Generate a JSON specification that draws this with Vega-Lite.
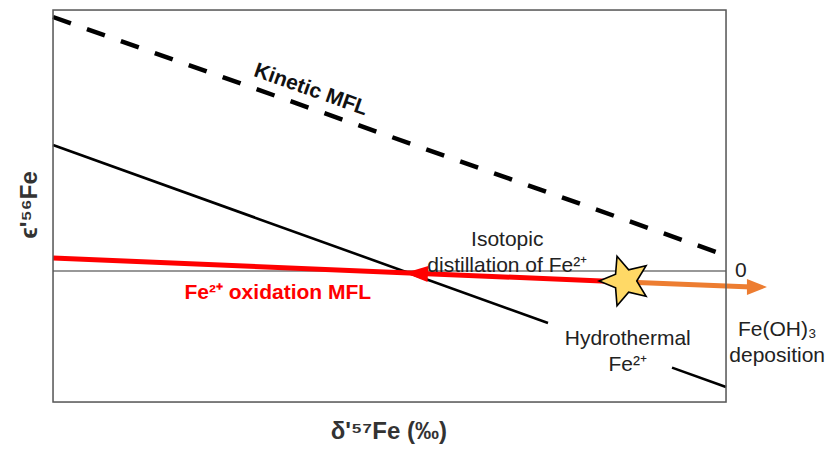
{
  "$schema": "https://vega.github.io/schema/vega-lite/v6.json",
  "width": 673,
  "height": 392,
  "autosize": {"type": "none"},
  "padding": {"left": 53, "top": 10, "right": 111, "bottom": 52},
  "layer": [
    {
      "data": {"values": [{"seg": "zero", "dx": 0, "ey": 0}, {"seg": "zero", "dx": 10, "ey": 0}]},
      "mark": {"type": "line", "color": "#333333", "strokeWidth": 1.2},
      "encoding": {
        "x": {"field": "dx", "type": "quantitative", "scale": {"domain": [0, 10], "nice": false, "zero": false}, "axis": null},
        "y": {"field": "ey", "type": "quantitative", "scale": {"domain": [-1.31, 2.61], "nice": false, "zero": false}, "axis": null}
      }
    },
    {
      "data": {"values": [{"seg": "kinetic", "dx": 0, "ey": 2.54}, {"seg": "kinetic", "dx": 10, "ey": 0.155}]},
      "mark": {"type": "line", "color": "black", "strokeWidth": 4.5, "strokeDash": [19, 17]},
      "encoding": {
        "x": {"field": "dx", "type": "quantitative"},
        "y": {"field": "ey", "type": "quantitative"}
      }
    },
    {
      "data": {"values": [{"seg": "eq1", "dx": 0, "ey": 1.26}, {"seg": "eq1", "dx": 7.355, "ey": -0.52}]},
      "mark": {"type": "line", "color": "black", "strokeWidth": 2.6},
      "encoding": {
        "x": {"field": "dx", "type": "quantitative"},
        "y": {"field": "ey", "type": "quantitative"}
      }
    },
    {
      "data": {"values": [{"seg": "eq2", "dx": 9.198, "ey": -0.966}, {"seg": "eq2", "dx": 10, "ey": -1.16}]},
      "mark": {"type": "line", "color": "black", "strokeWidth": 2.6},
      "encoding": {
        "x": {"field": "dx", "type": "quantitative"},
        "y": {"field": "ey", "type": "quantitative"}
      }
    },
    {
      "data": {"values": [{"seg": "fe3", "dx": 8.5, "ey": -0.11}, {"seg": "fe3", "dx": 10.38, "ey": -0.16}]},
      "mark": {"type": "line", "color": "#ED7D31", "strokeWidth": 5},
      "encoding": {
        "x": {"field": "dx", "type": "quantitative"},
        "y": {"field": "ey", "type": "quantitative"}
      }
    },
    {
      "data": {"values": [{"seg": "ox", "dx": 0, "ey": 0.13}, {"seg": "ox", "dx": 8.5, "ey": -0.11}]},
      "mark": {"type": "line", "color": "#FF0000", "strokeWidth": 5},
      "encoding": {
        "x": {"field": "dx", "type": "quantitative"},
        "y": {"field": "ey", "type": "quantitative"}
      }
    },
    {
      "data": {"values": [{"seg": "frame", "ax": 0, "bx": 10, "ay": -1.31, "by": 2.61}]},
      "mark": {"type": "rect", "fill": "transparent", "stroke": "#5a5a5a", "strokeWidth": 1.5},
      "encoding": {
        "x": {"field": "ax", "type": "quantitative"},
        "x2": {"field": "bx"},
        "y": {"field": "ay", "type": "quantitative"},
        "y2": {"field": "by"}
      }
    },
    {
      "data": {"values": [{"head": "red", "dx": 5.4, "ey": -0.025}]},
      "mark": {"type": "point", "shape": "M-1,0L1,-0.7L1,0.7Z", "filled": true, "color": "#FF0000", "opacity": 1, "size": 529, "angle": 2.4},
      "encoding": {
        "x": {"field": "dx", "type": "quantitative"},
        "y": {"field": "ey", "type": "quantitative"}
      }
    },
    {
      "data": {"values": [{"head": "orange", "dx": 10.46, "ey": -0.16}]},
      "mark": {"type": "point", "shape": "M1,0L-1,-0.8L-1,0.8Z", "filled": true, "color": "#ED7D31", "opacity": 1, "size": 400},
      "encoding": {
        "x": {"field": "dx", "type": "quantitative"},
        "y": {"field": "ey", "type": "quantitative"}
      }
    },
    {
      "data": {"values": [{"pt": "hydrothermal", "dx": 8.5, "ey": -0.1}]},
      "mark": {"type": "point", "shape": "M0,-1L0.265,-0.364L0.951,-0.309L0.428,0.139L0.588,0.809L0,0.45L-0.588,0.809L-0.428,0.139L-0.951,-0.309L-0.265,-0.364Z", "filled": true, "color": "#FFD966", "opacity": 1, "size": 2700, "angle": -18},
      "encoding": {
        "x": {"field": "dx", "type": "quantitative"},
        "y": {"field": "ey", "type": "quantitative"}
      }
    },
    {
      "data": {"values": [{"pt": "hydrothermal", "dx": 8.5, "ey": -0.1}]},
      "mark": {"type": "point", "shape": "M0,-1L0.265,-0.364L0.951,-0.309L0.428,0.139L0.588,0.809L0,0.45L-0.588,0.809L-0.428,0.139L-0.951,-0.309L-0.265,-0.364Z", "filled": false, "color": "#000000", "strokeWidth": 1.6, "opacity": 1, "size": 2700, "angle": -18},
      "encoding": {
        "x": {"field": "dx", "type": "quantitative"},
        "y": {"field": "ey", "type": "quantitative"}
      }
    },
    {
      "data": {"values": [{"dx": 3.83, "ey": 1.81, "label": "Kinetic MFL"}]},
      "mark": {"type": "text", "font": "Liberation Sans", "fontSize": 21, "fontWeight": "bold", "color": "#111111", "angle": 19.5, "align": "center", "baseline": "middle"},
      "encoding": {
        "x": {"field": "dx", "type": "quantitative"},
        "y": {"field": "ey", "type": "quantitative"},
        "text": {"field": "label"}
      }
    },
    {
      "data": {"values": [{"dx": 3.34, "ey": -0.22, "label": "Fe²⁺ oxidation MFL"}]},
      "mark": {"type": "text", "font": "Liberation Sans", "fontSize": 21, "fontWeight": "bold", "color": "#FF0000", "align": "center", "baseline": "middle"},
      "encoding": {
        "x": {"field": "dx", "type": "quantitative"},
        "y": {"field": "ey", "type": "quantitative"},
        "text": {"field": "label"}
      }
    },
    {
      "data": {"values": [
        {"dx": 6.75, "ey": 0.315, "label": "Isotopic\ndistillation of Fe²⁺"},
        {"dx": 8.54, "ey": -0.675, "label": "Hydrothermal\nFe²⁺"},
        {"dx": 10.22, "ey": 0.0, "label": "0"},
        {"dx": 10.76, "ey": -0.585, "label": "Fe(OH)₃\ndeposition"}
      ]},
      "mark": {"type": "text", "font": "Liberation Sans", "fontSize": 21, "color": "#222222", "align": "center", "baseline": "middle", "lineBreak": "\n", "lineHeight": 26},
      "encoding": {
        "x": {"field": "dx", "type": "quantitative"},
        "y": {"field": "ey", "type": "quantitative"},
        "text": {"field": "label"}
      }
    },
    {
      "data": {"values": [{"dx": 4.99, "ey": -1.61, "label": "δ'⁵⁷Fe (‰)"}]},
      "mark": {"type": "text", "font": "Liberation Sans", "fontSize": 24, "fontWeight": "bold", "color": "#333333", "align": "center", "baseline": "middle"},
      "encoding": {
        "x": {"field": "dx", "type": "quantitative"},
        "y": {"field": "ey", "type": "quantitative"},
        "text": {"field": "label"}
      }
    },
    {
      "data": {"values": [{"dx": -0.342, "ey": 0.66, "label": "ϵ'⁵⁶Fe"}]},
      "mark": {"type": "text", "font": "Liberation Sans", "fontSize": 24, "fontWeight": "bold", "color": "#333333", "align": "center", "baseline": "middle", "angle": 270},
      "encoding": {
        "x": {"field": "dx", "type": "quantitative"},
        "y": {"field": "ey", "type": "quantitative"},
        "text": {"field": "label"}
      }
    }
  ]
}
